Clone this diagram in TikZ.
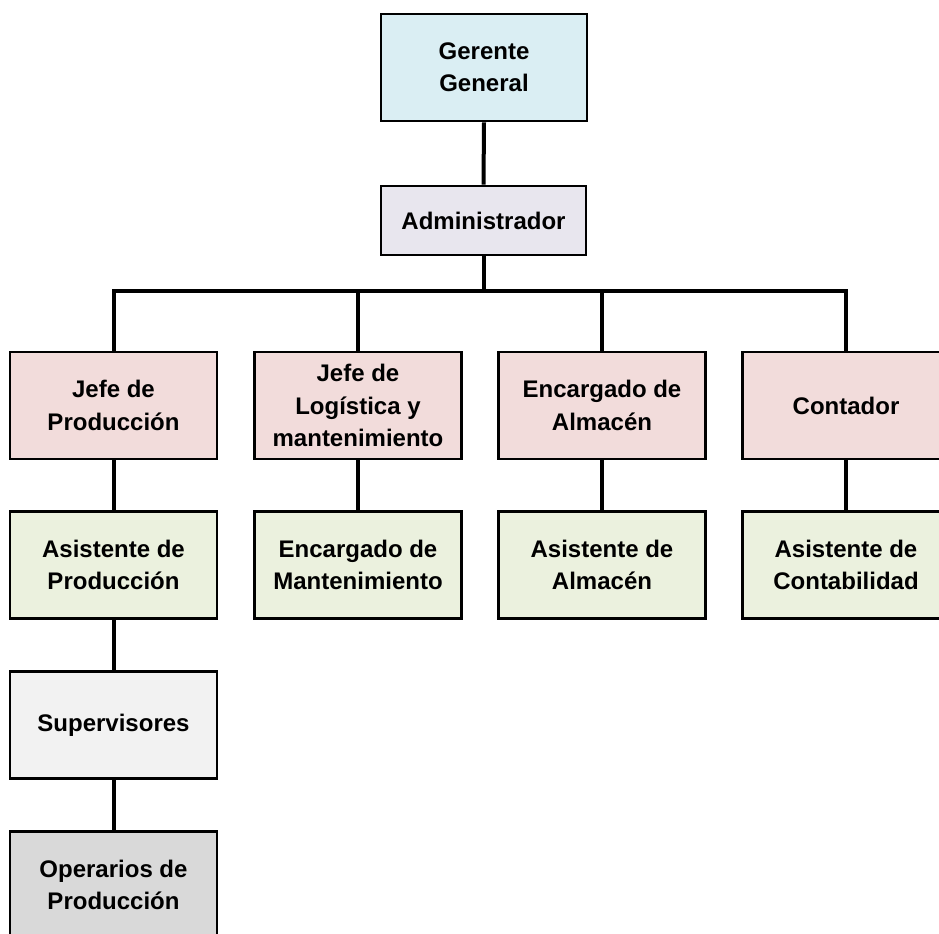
\documentclass[tikz,border=0pt]{standalone}
\usepackage{fontspec}
\setmainfont{Liberation Sans}
\definecolor{cgerente}{HTML}{DAEEF3}
\definecolor{cadmin}{HTML}{E8E6EE}
\definecolor{cjefe}{HTML}{F2DCDB}
\definecolor{casist}{HTML}{EBF1DE}
\definecolor{csuper}{HTML}{F2F2F2}
\definecolor{coper}{HTML}{D9D9D9}
\begin{document}
\begin{tikzpicture}[x=0.75pt,y=-0.75pt,
  orgbox/.style={draw=black, line width=2.2pt, align=center, inner sep=0pt,
    minimum width=155.25pt, minimum height=80.25pt,
    font=\fontsize{18}{24.3}\selectfont\bfseries},
  link/.style={draw=black, line width=3pt}]
  \fill[white] (0,0) rectangle (939,933);
  \clip (0,0) rectangle (939,933);

  % top of the hierarchy
  \node[orgbox, fill=cgerente, minimum width=154.5pt] (gg) at (484,67.5) {Gerente\\General};
  \node[orgbox, fill=cadmin, minimum width=153.75pt, minimum height=51.75pt] (adm) at (483.5,220.5) {Administrador};

  % department heads
  \node[orgbox, fill=cjefe] (jp) at (113.5,405.5) {Jefe de\\Producción};
  \node[orgbox, fill=cjefe] (jl) at (358,405.5) {Jefe de\\Logística y\\mantenimiento};
  \node[orgbox, fill=cjefe] (ea) at (602,405.5) {Encargado de\\Almacén};
  \node[orgbox, fill=cjefe] (ct) at (846,405.5) {Contador};

  % assistants
  \node[orgbox, fill=casist] (ap) at (113.5,565) {Asistente de\\Producción};
  \node[orgbox, fill=casist] (em) at (358,565) {Encargado de\\Mantenimiento};
  \node[orgbox, fill=casist] (aa) at (602,565) {Asistente de\\Almacén};
  \node[orgbox, fill=casist] (ac) at (846,565) {Asistente de\\Contabilidad};

  % production line
  \node[orgbox, fill=csuper] (sup) at (113.5,725) {Supervisores};
  \node[orgbox, fill=coper] (op) at (113.5,885) {Operarios de\\Producción};

  % connectors, with the horizontal bus below the Administrador
  \coordinate (bus) at (483.5,291);
  \draw[link] (gg.south) -- (adm.north);
  \draw[link] (adm.south) -- (bus);
  \draw[link] (jp.north) |- (bus) -| (ct.north);
  \draw[link] (jl.north) -- (jl.north |- bus);
  \draw[link] (ea.north) -- (ea.north |- bus);
  \draw[link] (jp.south) -- (ap.north);
  \draw[link] (jl.south) -- (em.north);
  \draw[link] (ea.south) -- (aa.north);
  \draw[link] (ct.south) -- (ac.north);
  \draw[link] (ap.south) -- (sup.north);
  \draw[link] (sup.south) -- (op.north);
\end{tikzpicture}
\end{document}
